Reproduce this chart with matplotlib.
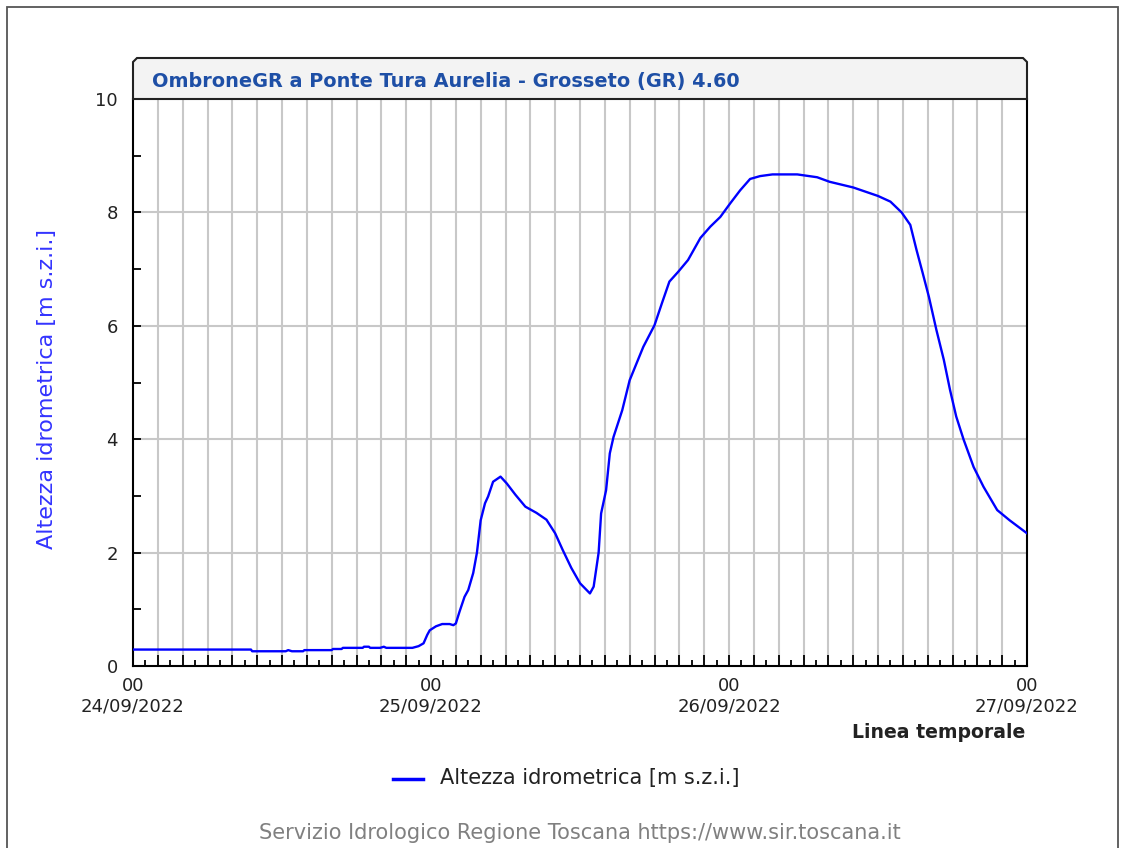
import matplotlib
matplotlib.use("Agg")
import matplotlib.pyplot as plt
from matplotlib.patches import Polygon, Rectangle
from matplotlib.lines import Line2D
from matplotlib.ticker import FixedLocator, NullFormatter

# ---- data (hours since 24/09/2022 00:00, water level in m) ----
hours = [0, 9.5, 9.6, 12.3, 12.5, 12.8, 13.7, 13.8, 16.0, 16.1, 16.8, 16.9, 18.5, 18.6,
         19.0, 19.1, 19.9, 20.2, 20.4, 22.5, 23.0, 23.4, 23.7, 23.9, 24.4, 24.9, 25.5,
         25.8, 26.0, 26.3, 26.7, 27.0, 27.4, 27.7, 28.0, 28.35, 28.6, 29.0, 29.6, 30.1,
         30.8, 31.6, 32.5, 33.3, 34.0, 34.6, 35.3, 36.0, 36.8, 37.1, 37.5, 37.7, 38.1,
         38.4, 38.7, 39.4, 40.0, 41.1, 42.0, 42.6, 43.2, 43.9, 44.7, 45.7, 46.5, 47.3,
         48.1, 48.9, 49.7, 50.5, 51.5, 53.5, 55.1, 56.1, 58.0, 60.0, 61.0, 61.9, 62.6,
         63.1, 63.6, 64.1, 64.7, 65.3, 65.8, 66.3, 66.9, 67.7, 68.5, 69.6, 70.6, 72.0]
level = [0.29, 0.29, 0.26, 0.26, 0.28, 0.26, 0.26, 0.28, 0.28, 0.30, 0.30, 0.32, 0.32, 0.34,
         0.34, 0.32, 0.32, 0.34, 0.32, 0.32, 0.35, 0.40, 0.55, 0.63, 0.70, 0.74, 0.74,
         0.72, 0.75, 0.96, 1.22, 1.34, 1.64, 2.00, 2.57, 2.87, 2.99, 3.25, 3.34, 3.22,
         3.02, 2.81, 2.70, 2.58, 2.34, 2.05, 1.73, 1.46, 1.28, 1.40, 2.00, 2.69, 3.10,
         3.75, 4.04, 4.51, 5.04, 5.63, 6.01, 6.40, 6.78, 6.95, 7.16, 7.55, 7.75, 7.92,
         8.16, 8.39, 8.59, 8.64, 8.67, 8.67, 8.62, 8.54, 8.44, 8.29, 8.19, 8.00, 7.78,
         7.34, 6.93, 6.51, 5.93, 5.40, 4.87, 4.40, 3.99, 3.51, 3.16, 2.75, 2.57, 2.34]

xtick_pos = [0, 24, 48, 72]
xtick_labels = ["00\n24/09/2022", "00\n25/09/2022", "00\n26/09/2022", "00\n27/09/2022"]
ytick_pos = [0, 2, 4, 6, 8, 10]
ytick_labels = ["0", "2", "4", "6", "8", "10"]
title = "OmbroneGR a Ponte Tura Aurelia - Grosseto (GR) 4.60"
ylabel = "Altezza idrometrica [m s.z.i.]"
xlabel = "Linea temporale"
legend_label = "Altezza idrometrica [m s.z.i.]"
footer = "Servizio Idrologico Regione Toscana https://www.sir.toscana.it"

W, H = 1127, 848
plt.rcParams['font.family'] = ['DejaVu Sans']
fig = plt.figure(figsize=(W / 100, H / 100), dpi=100)


def fx(x):
    return x / W


def fy(y):
    return 1 - y / H


L, R, T, B = 133, 1027, 99, 666
ax = fig.add_axes([fx(L), fy(B), fx(R) - fx(L), fy(T) - fy(B)])

ax.plot(hours, level, color="#0000ff", lw=1.7, zorder=3)
ax.set_xlim(0, 72)
ax.set_ylim(0, 10)

# grids
for h in range(2, 72, 2):
    ax.axvline(h, color="#c8c8c8", lw=1.5, zorder=1)
for v in [2, 4, 6, 8]:
    ax.axhline(v, color="#c8c8c8", lw=1.5, zorder=1)

ax.xaxis.set_major_locator(FixedLocator(list(range(0, 73, 2))))
ax.xaxis.set_minor_locator(FixedLocator(list(range(1, 72, 2))))
ax.xaxis.set_major_formatter(NullFormatter())
ax.yaxis.set_major_locator(FixedLocator(ytick_pos))
ax.yaxis.set_minor_locator(FixedLocator([1, 3, 5, 7, 9]))
ax.set_yticklabels(ytick_labels)
ax.tick_params(axis="x", which="major", direction="in", length=8, width=1.3, color="black")
ax.tick_params(axis="x", which="minor", direction="in", length=4, width=1.3, color="black")
ax.tick_params(axis="y", which="both", direction="in", length=6, width=1.3, color="black",
               labelsize=13, pad=11, labelcolor="#222222")
for s in ["left", "right", "bottom"]:
    ax.spines[s].set_linewidth(1.5)
ax.spines["top"].set_visible(False)

for pos, lab in zip(xtick_pos, xtick_labels):
    ax.text(pos, -0.02, lab, transform=ax.get_xaxis_transform(), ha="center", va="top",
            fontsize=13, color="#222222", linespacing=1.15)

# title box
poly = Polygon([(fx(133), fy(99)), (fx(133), fy(62)), (fx(137), fy(58)), (fx(1023), fy(58)),
                (fx(1027), fy(62)), (fx(1027), fy(99))], closed=True,
               transform=fig.transFigure, facecolor="#f3f3f3", edgecolor="#222222", lw=1.5)
fig.patches.append(poly)
fig.text(fx(152), fy(81), title, color="#1e4fa6", fontsize=13.9, fontweight="bold",
         ha="left", va="center")

# outer frame
frame = Rectangle((fx(7), -0.05), fx(1118) - fx(7), fy(7) + 0.05, transform=fig.transFigure,
                  facecolor="none", edgecolor="#555555", lw=1.3)
fig.patches.append(frame)

fig.text(fx(47), fy(389), ylabel, rotation=90, color="#3333ff", fontsize=16,
         ha="center", va="center")
fig.text(fx(1025), fy(733), xlabel, color="#222222", fontsize=13.6, fontweight="bold",
         ha="right", va="center")

fig.lines.append(Line2D([fx(393), fx(423)], [fy(779), fy(779)], color="#0000ff", lw=2.5,
                        transform=fig.transFigure))
fig.text(fx(440), fy(778), legend_label, color="#222222", fontsize=15, ha="left", va="center")
fig.text(fx(580), fy(833), footer, color="#808080", fontsize=15, ha="center", va="center")

fig.savefig("out.png", dpi=100)
